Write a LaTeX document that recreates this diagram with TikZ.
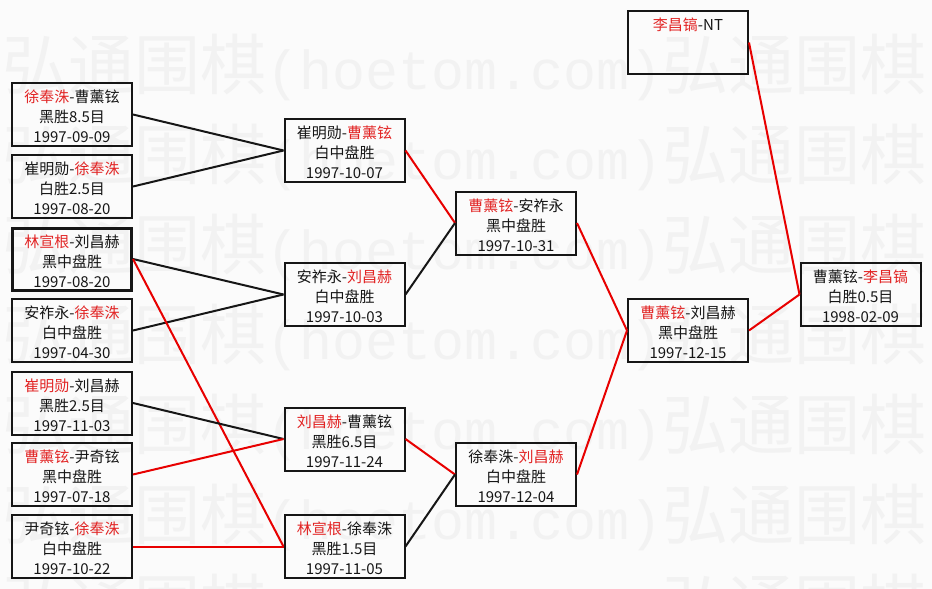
\documentclass[tikz,border=0pt]{standalone}
\usepackage{fontspec}
\newfontfamily\cjk{Noto Sans CJK SC}
\newfontfamily\wmmono{Liberation Mono}
\definecolor{bg}{RGB}{251,251,251}
\definecolor{wm}{RGB}{242,242,242}
\definecolor{rtxt}{RGB}{226,36,36}
\definecolor{rline}{RGB}{232,0,0}
\definecolor{ink}{RGB}{22,22,22}
\newcommand{\rn}[1]{\textcolor{rtxt}{#1}}
\newcommand{\gamebox}[6][]{%
  \node[gbox,#1] (#2) at (#3) {};
  \node[gtxt] (#2t) at ([yshift=-2pt]#2.center) {#4\\#5\\#6};}
\newcommand{\wmline}{弘通围棋{\wmmono\fontsize{55}{66}\selectfont(hoetom.com)}弘通围棋{\wmmono\fontsize{55}{66}\selectfont(hoetom.com)}}
\tikzset{
  gbox/.style={draw=ink, line width=2pt, minimum width=120pt, minimum height=63pt, inner sep=0pt},
  thickbox/.style={line width=3pt, minimum width=119pt, minimum height=62pt},
  gtxt/.style={align=center, font=\cjk\fontsize{15}{20}\selectfont, text=ink, inner sep=0pt},
  wmark/.style={anchor=west, inner sep=0pt, text=wm, font=\cjk\fontsize{66}{66}\selectfont},
  conn/.style={line width=2pt, draw=ink},
  rconn/.style={line width=2pt, draw=rline}
}
\begin{document}
\begin{tikzpicture}[x=1pt, y=-1pt]
\useasboundingbox (0,0) rectangle (932,589);
\fill[bg] (0,0) rectangle (932,589);
\begin{scope}
\clip (0,0) rectangle (932,589);
\foreach \yy in {67,157,247,337,427,517,607}
  \node[wmark] (wm\yy) at (2,\yy) {\wmline};
\end{scope}

% round 1
\gamebox{L1}{72,114.5}{\rn{徐奉洙}-曹薰铉}{黑胜8.5目}{1997-09-09}
\gamebox{L2}{72,186.5}{崔明勋-\rn{徐奉洙}}{白胜2.5目}{1997-08-20}
\gamebox[thickbox]{L3}{72,259}{\rn{林宣根}-刘昌赫}{黑中盘胜}{1997-08-20}
\gamebox{L4}{72,330.5}{安祚永-\rn{徐奉洙}}{白中盘胜}{1997-04-30}
\gamebox{L5}{72,403}{\rn{崔明勋}-刘昌赫}{黑胜2.5目}{1997-11-03}
\gamebox{L6}{72,474.5}{\rn{曹薰铉}-尹奇铉}{黑中盘胜}{1997-07-18}
\gamebox{L7}{72,546.5}{尹奇铉-\rn{徐奉洙}}{白中盘胜}{1997-10-22}
% round 2
\gamebox{M1}{344.5,150.5}{崔明勋-\rn{曹薰铉}}{白中盘胜}{1997-10-07}
\gamebox{M2}{344.5,294.5}{安祚永-\rn{刘昌赫}}{白中盘胜}{1997-10-03}
\gamebox{M3}{344.5,439}{\rn{刘昌赫}-曹薰铉}{黑胜6.5目}{1997-11-24}
\gamebox{M4}{344.5,546.5}{\rn{林宣根}-徐奉洙}{黑胜1.5目}{1997-11-05}
% round 3
\gamebox{C1}{516,223}{\rn{曹薰铉}-安祚永}{黑中盘胜}{1997-10-31}
\gamebox{C2}{516,474.5}{徐奉洙-\rn{刘昌赫}}{白中盘胜}{1997-12-04}
% round 4
\gamebox{D1}{688,330.5}{\rn{曹薰铉}-刘昌赫}{黑中盘胜}{1997-12-15}
\node[gbox] (NT) at (688,42.5) {};
\node[gtxt] (NTt) at (688,25) {\rn{李昌镐}-NT};
% final
\gamebox{F}{860.5,294.5}{曹薰铉-\rn{李昌镐}}{白胜0.5目}{1998-02-09}

% connectors
\draw[conn] (L1.east) -- (M1.west);
\draw[conn] (L2.east) -- (M1.west);
\draw[conn] (L3.east) -- (M2.west);
\draw[conn] (L4.east) -- (M2.west);
\draw[rconn] (L3.east) -- (M4.west);
\draw[conn] (L5.east) -- (M3.west);
\draw[rconn] (L6.east) -- (M3.west);
\draw[rconn] (L7.east) -- (M4.west);
\draw[rconn] (M1.east) -- (C1.west);
\draw[conn] (M2.east) -- (C1.west);
\draw[rconn] (M3.east) -- (C2.west);
\draw[conn] (M4.east) -- (C2.west);
\draw[rconn] (C1.east) -- (D1.west);
\draw[rconn] (C2.east) -- (D1.west);
\draw[rconn] (D1.east) -- (F.west);
\draw[rconn] (NT.east) -- (F.west);
\end{tikzpicture}
\end{document}
